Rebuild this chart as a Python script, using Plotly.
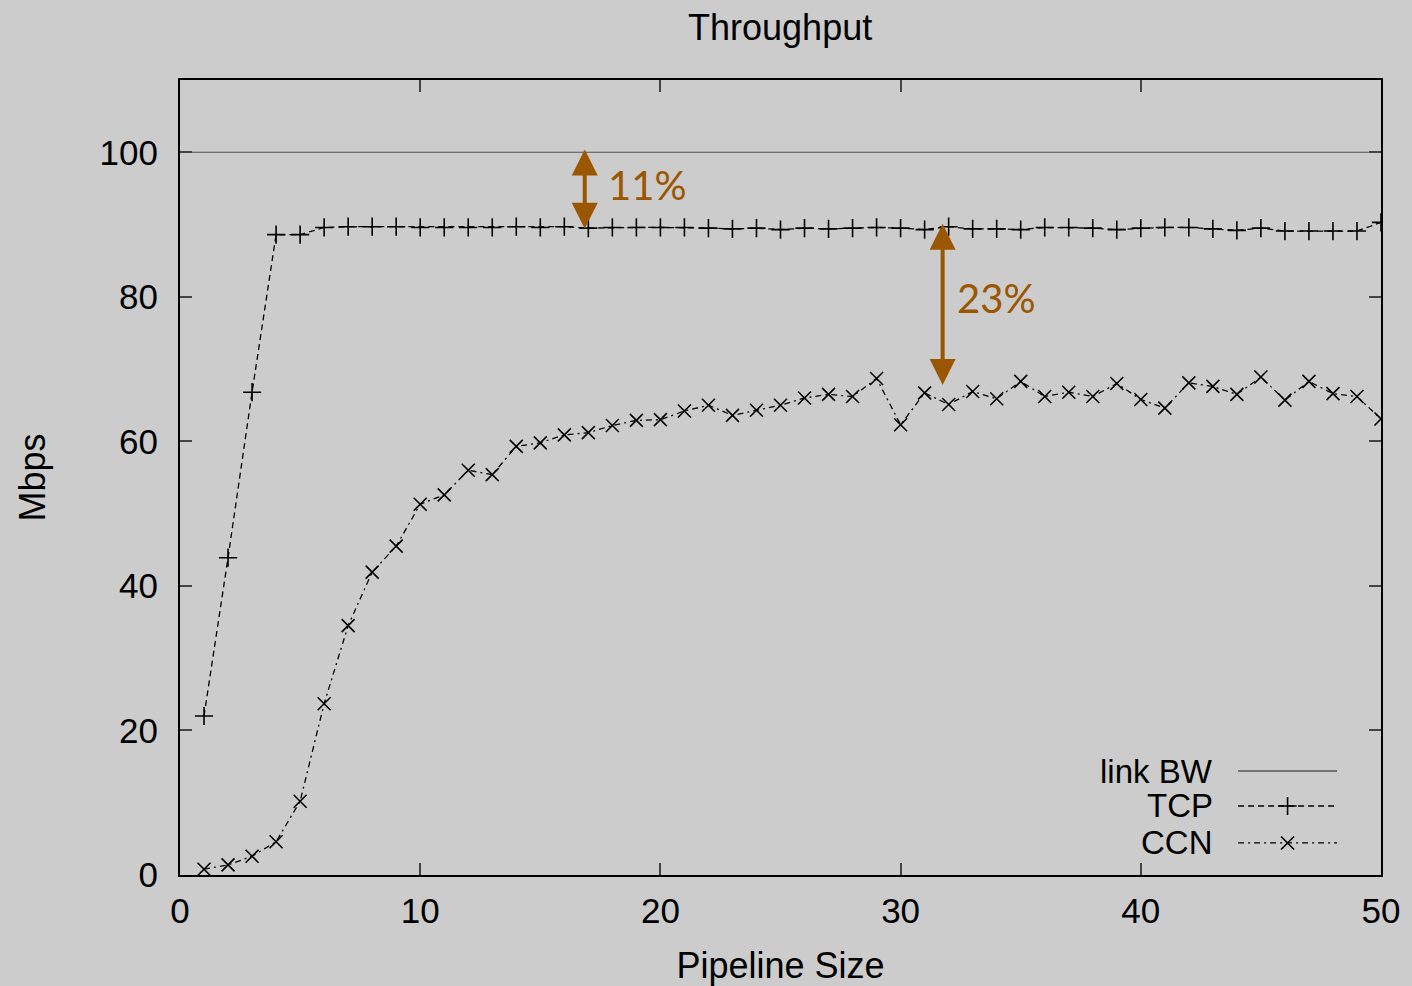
import plotly.graph_objects as go

pipeline = list(range(1, 51))
tcp = [22.0, 43.9, 66.8, 88.6, 88.6, 89.6, 89.7, 89.7, 89.7, 89.6,
       89.6, 89.6, 89.6, 89.7, 89.6, 89.7, 89.5, 89.6, 89.6, 89.6,
       89.6, 89.5, 89.4, 89.5, 89.3, 89.5, 89.4, 89.5, 89.6, 89.5,
       89.3, 89.7, 89.4, 89.4, 89.3, 89.6, 89.6, 89.5, 89.3, 89.5,
       89.6, 89.6, 89.4, 89.2, 89.5, 89.1, 89.1, 89.1, 89.1, 90.3]
ccn = [0.8, 1.4, 2.6, 4.6, 10.2, 23.7, 34.5, 41.9, 45.5, 51.3,
       52.6, 56.0, 55.4, 59.3, 59.8, 60.9, 61.2, 62.2, 62.9, 63.0,
       64.2, 65.0, 63.6, 64.3, 65.0, 66.0, 66.5, 66.2, 68.7, 62.3,
       66.7, 65.1, 66.9, 65.9, 68.3, 66.2, 66.8, 66.2, 68.0, 65.8,
       64.6, 68.1, 67.6, 66.5, 68.9, 65.7, 68.3, 66.6, 66.2, 63.1]
link_bw_x = [0, 50]
link_bw = [100, 100]

x_ticks = [0, 10, 20, 30, 40, 50]
y_ticks = [0, 20, 40, 60, 80, 100]

ORANGE = "#9A5600"
FONT = "Liberation Sans"

fig = go.Figure()
fig.add_trace(go.Scatter(x=link_bw_x, y=link_bw, mode="lines", name="link BW",
                         line=dict(color="#555555", width=1.2), showlegend=False))
fig.add_trace(go.Scatter(x=pipeline, y=tcp, mode="lines+markers", name="TCP",
                         line=dict(color="black", width=1.3, dash="6px,4px"),
                         marker=dict(symbol="cross-thin", size=13,
                                     line=dict(color="black", width=1.6)),
                         showlegend=False))
fig.add_trace(go.Scatter(x=pipeline, y=ccn, mode="lines+markers", name="CCN",
                         line=dict(color="black", width=1.3, dash="6px,4px,2px,4px"),
                         marker=dict(symbol="x-thin", size=13,
                                     line=dict(color="black", width=1.6)),
                         showlegend=False))

# annotation arrows (double headed)
fig.add_annotation(x=16.85, y=100.4, ax=16.85, ay=89.2, xref="x", yref="y", axref="x", ayref="y",
                   showarrow=True, arrowhead=2, arrowside="end+start", arrowsize=1.3,
                   arrowwidth=4, arrowcolor=ORANGE, text="")
fig.add_annotation(x=17.75, y=95.5, xref="x", yref="y", text="11%", showarrow=False,
                   xanchor="left", font=dict(family="Lato", size=40, color=ORANGE))
fig.add_annotation(x=31.75, y=90.1, ax=31.75, ay=67.6, xref="x", yref="y", axref="x", ayref="y",
                   showarrow=True, arrowhead=2, arrowside="end+start", arrowsize=1.3,
                   arrowwidth=4, arrowcolor=ORANGE, text="")
fig.add_annotation(x=32.25, y=79.9, xref="x", yref="y", text="23%", showarrow=False,
                   xanchor="left", font=dict(family="Lato", size=40, color=ORANGE))

# custom gnuplot-style legend (text on the left, sample on the right)
legend_rows = [("link BW", 0.1308, "solid", None, "#555555"),
               ("TCP", 0.0868, "6px,4px", "plus", "black"),
               ("CCN", 0.0403, "6px,4px,2px,4px", "x", "black")]
for name, yp, dash, mk, col in legend_rows:
    fig.add_annotation(x=0.862, y=yp, xref="paper", yref="paper", text=name,
                       showarrow=False, xanchor="right", yanchor="middle",
                       font=dict(family=FONT, size=33, color="black"))
    fig.add_shape(type="line", xref="paper", yref="paper", x0=0.881, x1=0.9634,
                  y0=yp, y1=yp, line=dict(color=col, width=1.3, dash=dash))
    if mk is not None:
        fig.add_trace(go.Scatter(x=[0.9222], y=[yp], xaxis="x2", yaxis="y2",
                                 mode="markers", showlegend=False, hoverinfo="skip",
                                 marker=dict(symbol="cross-thin" if mk == "plus" else "x-thin",
                                             size=13, line=dict(color="black", width=1.6))))

fig.update_layout(
    width=1412, height=986,
    paper_bgcolor="#cccccc", plot_bgcolor="#cccccc",
    margin=dict(l=180, r=31, t=80, b=111),
    font=dict(family=FONT, size=35, color="black"),
    title=dict(text="Throughput", x=0.5525, xanchor="center", y=0.972, yanchor="middle",
               font=dict(family=FONT, size=36)),
    xaxis=dict(range=[0, 50], tickvals=x_ticks, ticks="inside", ticklen=12, tickwidth=1.5,
               showline=True, linecolor="black", linewidth=2, mirror="ticks",
               showgrid=False, zeroline=False, ticklabelstandoff=4, automargin=False,
               tickfont=dict(size=35),
               title=dict(text="Pipeline Size", standoff=24, font=dict(size=36))),
    yaxis=dict(range=[0, 110], tickvals=y_ticks, ticks="inside", ticklen=12, tickwidth=1.5,
               showline=True, linecolor="black", linewidth=2, mirror="ticks",
               showgrid=False, zeroline=False, ticklabelstandoff=13, automargin=False,
               tickfont=dict(size=35),
               title=dict(text="Mbps", standoff=43, font=dict(size=36))),
    xaxis2=dict(range=[0, 1], overlaying="x", visible=False, domain=[0, 1]),
    yaxis2=dict(range=[0, 1], overlaying="y", visible=False),
    showlegend=False,
)
fig.write_html("out.html", config={"displayModeBar": False},
               post_script="document.body.style.margin='0px';document.body.style.overflow='hidden';")
